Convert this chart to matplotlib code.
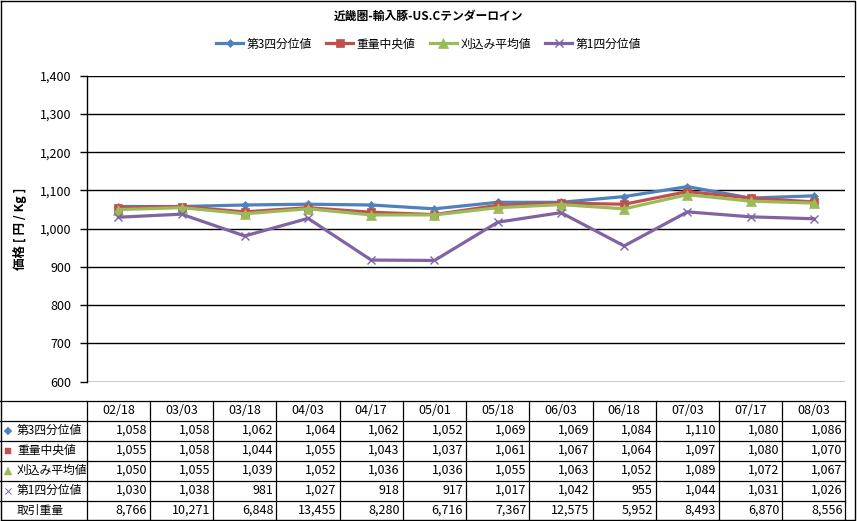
import matplotlib
matplotlib.use("Agg")
import matplotlib.pyplot as plt

plt.rcParams['font.family'] = ['Noto Sans CJK JP', 'DejaVu Sans']

categories = ["02/18", "03/03", "03/18", "04/03", "04/17", "05/01", "05/18",
              "06/03", "06/18", "07/03", "07/17", "08/03"]
q3 = [1058, 1058, 1062, 1064, 1062, 1052, 1069, 1069, 1084, 1110, 1080, 1086]
median = [1055, 1058, 1044, 1055, 1043, 1037, 1061, 1067, 1064, 1097, 1080, 1070]
trim_mean = [1050, 1055, 1039, 1052, 1036, 1036, 1055, 1063, 1052, 1089, 1072, 1067]
q1 = [1030, 1038, 981, 1027, 918, 917, 1017, 1042, 955, 1044, 1031, 1026]
volume = [8766, 10271, 6848, 13455, 8280, 6716, 7367, 12575, 5952, 8493, 6870, 8556]

series_names = ["第3四分位値", "重量中央値", "刈込み平均値", "第1四分位値"]
volume_name = "取引重量"
title = "近畿圏-輸入豚-US.Cテンダーロイン"
ylabel = "価格 [ 円 / Kg ]"
yticks = [600, 700, 800, 900, 1000, 1100, 1200, 1300, 1400]

colors = ["#4F81BD", "#C0504D", "#9BBB59", "#8064A2"]
markers = ["D", "s", "^", "x"]
msizes = [4.5, 6, 6.5, 6]

W, H = 857, 521
fig = plt.figure(figsize=(W / 100, H / 100), dpi=100)

# plot area in pixels
L, R, T, B = 86.7, 845.5, 75.7, 381.7
ax = fig.add_axes([L / W, 1 - B / H, (R - L) / W, (B - T) / H])

xs = list(range(len(categories)))
series = [q3, median, trim_mean, q1]
handles = []
for vals, c, m, ms, name in zip(series, colors, markers, msizes, series_names):
    ln, = ax.plot(xs, vals, color=c, lw=2.3, marker=m, markersize=ms,
                  markeredgewidth=1.0 if m == "x" else 0.5, markeredgecolor=c,
                  label=name, zorder=3)
    handles.append(ln)

ax.set_xlim(-0.5, len(categories) - 0.5)
ax.set_ylim(600, 1400)
ax.set_yticks(yticks)
ax.set_yticklabels([f"{v:,}" for v in yticks], fontsize=9)
ax.set_xticks([])
ax.yaxis.grid(True, color="black", lw=1.0)
ax.set_axisbelow(True)
for s in ["top", "right", "bottom"]:
    ax.spines[s].set_visible(False)
ax.spines["left"].set_linewidth(1.0)
ax.tick_params(axis="y", length=5, width=1.0, pad=6, colors="black")
ax.set_ylabel(ylabel, fontsize=9, fontweight="bold", labelpad=9)

fig.text(0.5, 1 - 16 / H, title, ha="center", va="center", fontsize=8.5, fontweight="bold")
fig.legend(handles=handles, loc="center", bbox_to_anchor=(0.5, 1 - 44 / H), ncol=4,
           frameon=False, fontsize=8.5, handlelength=2.3, handletextpad=0.3,
           columnspacing=1.2)

# table
tax = fig.add_axes([0, 0, 1, 1])
tax.set_xlim(0, W)
tax.set_ylim(H, 0)
tax.axis("off")

row_top = 400.5
row_h = 20.0
nrows = 6
col0 = 86.7
colw = (R - col0) / len(categories)
lwt = 0.9
for i in range(nrows + 1):
    y = row_top + i * row_h
    tax.plot([0, R], [y, y], color="black", lw=lwt)
for j in range(len(categories) + 1):
    x = col0 + j * colw
    tax.plot([x, x], [row_top, row_top + nrows * row_h], color="black", lw=lwt)

fs = 9
for j, cat in enumerate(categories):
    tax.text(col0 + j * colw + colw / 2, row_top + row_h / 2, cat,
             ha="center", va="center", fontsize=fs)

row_labels = series_names + [volume_name]
row_data = series + [volume]
for i, (lab, vals) in enumerate(zip(row_labels, row_data)):
    yc = row_top + (i + 1) * row_h + row_h / 2
    if i < 4:
        tax.plot([8], [yc], marker=markers[i], color=colors[i],
                 markersize=msizes[i] * 0.8, markeredgewidth=0.7 if markers[i] == "x" else 0.3,
                 linestyle="none")
    tax.text(17, yc, lab, ha="left", va="center", fontsize=8.5)
    for j, v in enumerate(vals):
        tax.text(col0 + (j + 1) * colw - 3, yc, f"{v:,}", ha="right", va="center", fontsize=fs)

# outer frame
tax.plot([0.5, W - 1.5, W - 1.5, 0.5, 0.5], [0.5, 0.5, H - 0.8, H - 0.8, 0.5],
         color="black", lw=1.0, clip_on=False)

fig.savefig("out.png", dpi=100)
